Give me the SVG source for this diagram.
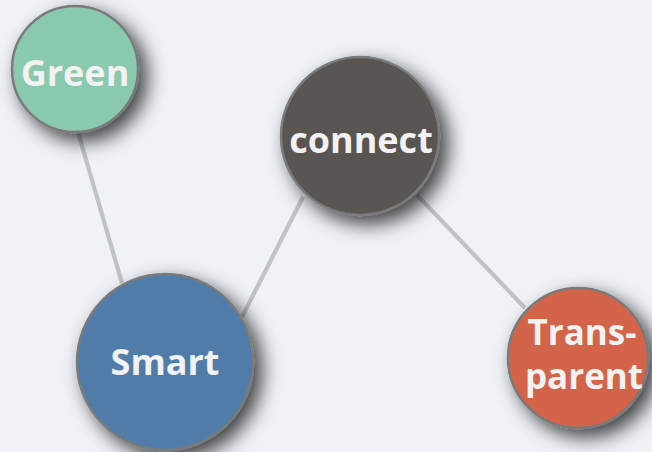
<svg xmlns="http://www.w3.org/2000/svg" width="652" height="452" viewBox="0 0 652 452">
<defs>
<filter id="sh" x="-50%" y="-50%" width="200%" height="200%">
<feDropShadow dx="8" dy="8" stdDeviation="10" flood-color="#000" flood-opacity="0.75"/>
</filter>
<style>
.edge{stroke:#c2c2c2;stroke-width:4.2;fill:none;stroke-linecap:butt}
.node circle{stroke:#7a7a7a;stroke-width:2.5;filter:url(#sh)}
.node text{font-family:"Open Sans","Noto Sans","DejaVu Sans",sans-serif;font-weight:bold;font-size:36px;fill:#f2f2f2;text-anchor:middle}
.node text.sm{font-size:35px}
</style>
</defs>
<rect width="652" height="452" fill="#eff3f8"/>
<g id="connectors">
<line class="edge" x1="78" y1="132" x2="122" y2="283"/>
<line class="edge" x1="303" y1="197" x2="242" y2="317"/>
<line class="edge" x1="417" y1="195" x2="525" y2="308"/>
</g>
<g id="node-green" class="node">
<circle cx="75" cy="69" r="63" fill="#89c9ae"/>
<text x="75" y="86">Green</text>
</g>
<g id="node-connect" class="node">
<circle cx="360" cy="136" r="79" fill="#595553"/>
<text x="361" y="153">connect</text>
</g>
<g id="node-smart" class="node">
<circle cx="165" cy="362" r="88" fill="#4f7ca8"/>
<text x="165" y="375">Smart</text>
</g>
<g id="node-trans" class="node">
<circle cx="578" cy="358" r="70" fill="#d3644a"/>
<text class="sm" x="582" y="345">Trans-</text>
<text class="sm" x="584" y="389">parent</text>
</g>
</svg>
